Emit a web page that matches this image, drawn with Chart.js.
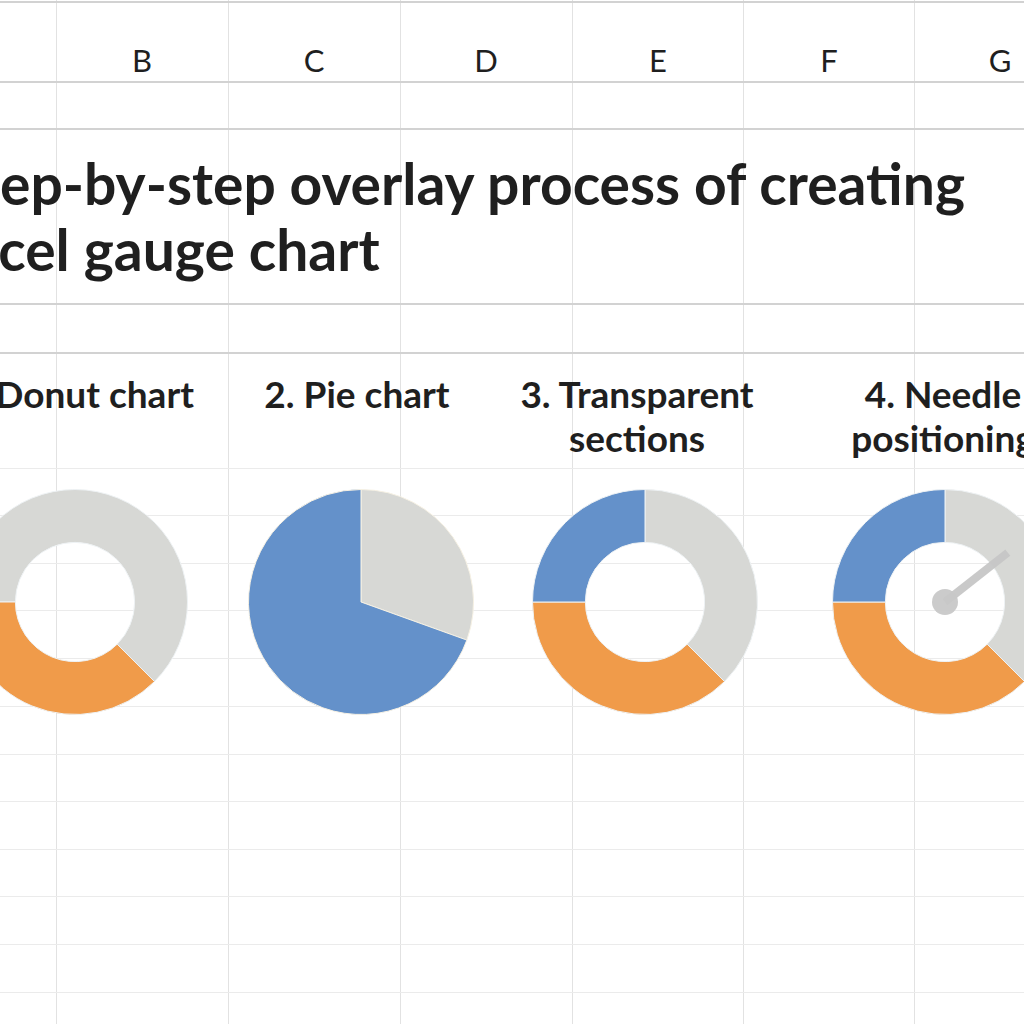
<!DOCTYPE html>
<html>
<head>
<meta charset="utf-8">
<script src="https://cdn.jsdelivr.net/npm/chart.js@4.4.0/dist/chart.umd.min.js"></script>
<style>
  html, body { margin: 0; padding: 0; background: #fff; }
  body { width: 1024px; height: 1024px; overflow: hidden; position: relative; font-family: Lato, "Open Sans", sans-serif; color: #1f1f1f; }
  .hline, .vline { position: absolute; }
  .hline { left: 0; width: 1024px; }
  .vline { top: 0; height: 1024px; width: 1px; background: #e2e2e2; }
  .colhead { position: absolute; top: 40px; width: 172px; text-align: center; font-size: 31px; font-weight: 400; line-height: 40px; }
  .title { position: absolute; font-size: 57px; font-weight: 700; line-height: 66px; white-space: nowrap; }
  .step { position: absolute; top: 372px; width: 320px; text-align: center; font-size: 37px; font-weight: 700; line-height: 44px; }
  .chartbox { position: absolute; width: 226px; height: 226px; }
</style>
</head>
<body>
<script>
// sheet content
const columnLetters = ['A', 'B', 'C', 'D', 'E', 'F', 'G'];
const titleLines = ['Step-by-step overlay process of creating', 'Excel gauge chart'];
const stepLabels = [['1. Donut chart'], ['2. Pie chart'], ['3. Transparent', 'sections'], ['4. Needle', 'positioning']];

// chart values (percent of a full circle, clockwise from 12 o'clock)
const donutShares = [62.5, 37.5];      // step 1: remainder, filled
const pieShares = [30.5, 69.5];        // step 2: remainder, value
const gaugeShares = [37.5, 37.5, 25];  // steps 3-4: hidden half, orange band, blue band
const needleValue = 14.4;              // step 4: needle position

const GRAY = '#d7d8d5';
const ORANGE = '#f09b4a';
const BLUE = '#6491ca';

// grid layout
const colEdges = [-116, 56, 228, 400, 572, 743, 914, 1086];
const rowLines = [1, 81, 128, 303, 352, 468, 515, 563, 610, 658, 706, 754, 801, 849, 896, 944, 992];
const chartCenters = [75, 361, 645, 945];
const labelCenters = [75, 357, 637, 943];
const chartMidY = 602;

colEdges.forEach(x => {
  const d = document.createElement('div');
  d.className = 'vline';
  d.style.left = x + 'px';
  document.body.appendChild(d);
});
rowLines.forEach((y, i) => {
  const d = document.createElement('div');
  d.className = 'hline';
  d.style.top = y + 'px';
  d.style.height = i < 5 ? '2px' : '1px';
  d.style.background = i < 5 ? '#d2d2d2' : '#ebebeb';
  document.body.appendChild(d);
});

columnLetters.forEach((c, i) => {
  const d = document.createElement('div');
  d.className = 'colhead';
  d.style.left = colEdges[i] + 'px';
  d.textContent = c;
  document.body.appendChild(d);
});

// the sheet is scrolled so the first letters of each title line sit off the left edge
const ctx = document.createElement('canvas').getContext('2d');
ctx.font = '700 57px Lato';
const hiddenPrefix = ['St', 'Ex'];
titleLines.forEach((line, i) => {
  const d = document.createElement('div');
  d.className = 'title';
  d.style.top = (150 + i * 66) + 'px';
  d.style.left = -Math.round(ctx.measureText(hiddenPrefix[i]).width) + 'px';
  d.textContent = line;
  document.body.appendChild(d);
});

stepLabels.forEach((lines, i) => {
  const d = document.createElement('div');
  d.className = 'step';
  d.style.left = (labelCenters[i] - 160) + 'px';
  d.innerHTML = lines.join('<br>');
  document.body.appendChild(d);
});

function makeBox(i) {
  const box = document.createElement('div');
  box.className = 'chartbox';
  box.style.left = (chartCenters[i] - 113) + 'px';
  box.style.top = (chartMidY - 113) + 'px';
  const cv = document.createElement('canvas');
  box.appendChild(cv);
  document.body.appendChild(box);
  return cv;
}

const baseOptions = {
  responsive: true,
  maintainAspectRatio: false,
  animation: false,
  plugins: { legend: { display: false }, tooltip: { enabled: false } }
};

const needlePlugin = {
  id: 'needle',
  afterDatasetsDraw(chart) {
    const arc = chart.getDatasetMeta(0).data[0];
    const c = chart.ctx;
    const ang = -Math.PI / 2 + needleValue / 100 * Math.PI * 2;
    const len = arc.outerRadius * 0.71;
    c.save();
    c.strokeStyle = 'rgba(198,198,198,0.95)';
    c.fillStyle = 'rgba(200,200,200,0.95)';
    c.lineWidth = 8;
    c.beginPath();
    c.moveTo(arc.x, arc.y);
    c.lineTo(arc.x + Math.cos(ang) * len, arc.y + Math.sin(ang) * len);
    c.stroke();
    c.beginPath();
    c.arc(arc.x, arc.y, 13, 0, Math.PI * 2);
    c.fill();
    c.restore();
  }
};

new Chart(makeBox(0), {
  type: 'doughnut',
  data: { datasets: [{ data: donutShares, backgroundColor: [GRAY, ORANGE], borderColor: '#eef2f4', borderWidth: 1 }] },
  options: { ...baseOptions, rotation: 270, cutout: '53%' }
});

new Chart(makeBox(1), {
  type: 'pie',
  data: { datasets: [{ data: pieShares, backgroundColor: [GRAY, BLUE], borderColor: '#f6f1e4', borderWidth: 1 }] },
  options: { ...baseOptions }
});

new Chart(makeBox(2), {
  type: 'doughnut',
  data: { datasets: [{ data: gaugeShares, backgroundColor: [GRAY, ORANGE, BLUE], borderColor: '#eef2f4', borderWidth: 1 }] },
  options: { ...baseOptions, cutout: '53%' }
});

new Chart(makeBox(3), {
  type: 'doughnut',
  data: { datasets: [{ data: gaugeShares, backgroundColor: [GRAY, ORANGE, BLUE], borderColor: '#eef2f4', borderWidth: 1 }] },
  options: { ...baseOptions, cutout: '53%' },
  plugins: [needlePlugin]
});
</script>
</body>
</html>
